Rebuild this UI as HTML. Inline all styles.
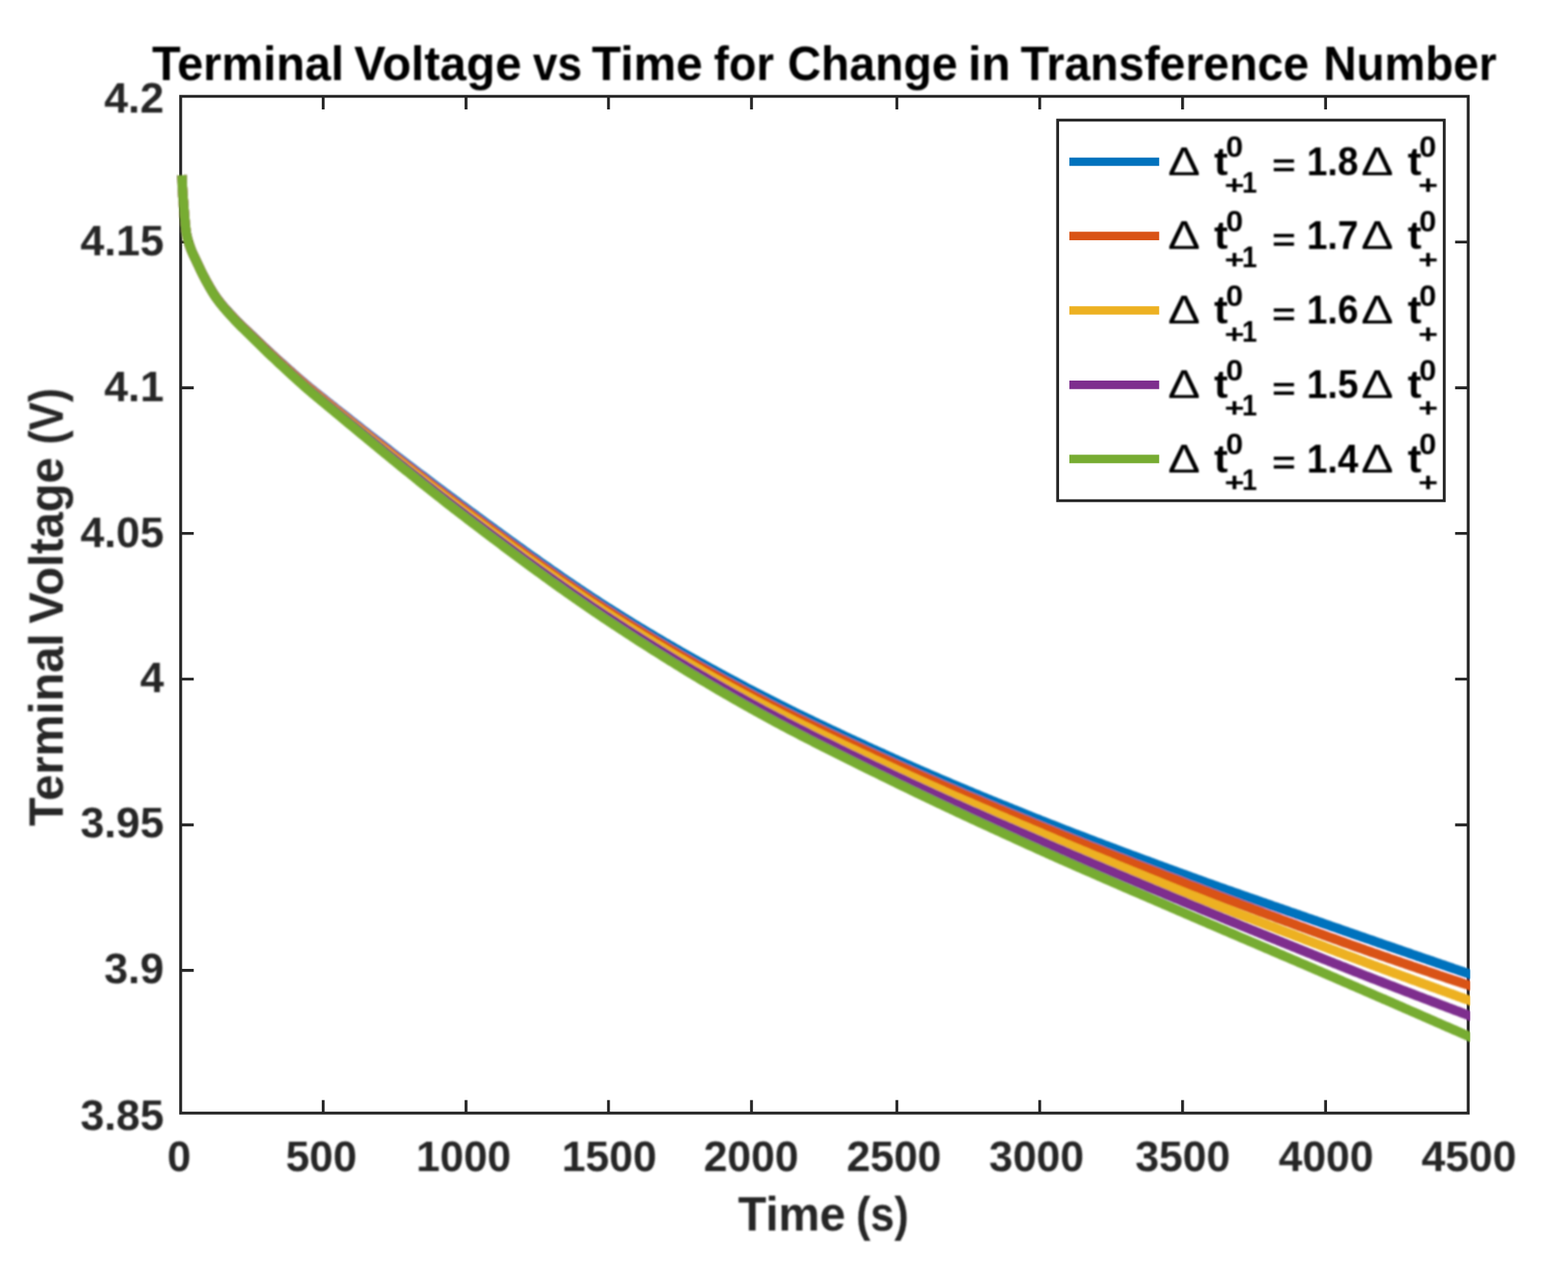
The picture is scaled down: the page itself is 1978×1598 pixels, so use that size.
<!DOCTYPE html>
<html lang="en"><head><meta charset="utf-8"><title>Terminal Voltage vs Time for Change in Transference Number</title>
<style>
html,body{margin:0;padding:0;background:#fff;}
body{width:1978px;height:1598px;overflow:hidden;}
svg{display:block;}
</style></head><body>
<svg width="1978" height="1598" viewBox="0 0 1978 1598">
<rect width="1978" height="1598" fill="#fff"/>
<defs><filter id="bt" x="0" y="0" width="1978" height="1598" filterUnits="userSpaceOnUse"><feGaussianBlur stdDeviation="1.1"/></filter><filter id="bc" x="0" y="0" width="1978" height="1598" filterUnits="userSpaceOnUse"><feGaussianBlur stdDeviation="1.0"/></filter><filter id="ba" x="0" y="0" width="1978" height="1598" filterUnits="userSpaceOnUse"><feGaussianBlur stdDeviation="0.45"/></filter></defs>
<g stroke="#262626" stroke-width="3.6" fill="none" stroke-linecap="butt" filter="url(#ba)">
<rect x="227.9" y="121.5" width="1624.1999999999998" height="1282.4"/>
<path d="M407.7,1403.9 v-16.5 M407.7,121.5 v16.5"/>
<path d="M587.9,1403.9 v-16.5 M587.9,121.5 v16.5"/>
<path d="M767.6,1403.9 v-16.5 M767.6,121.5 v16.5"/>
<path d="M948.0,1403.9 v-16.5 M948.0,121.5 v16.5"/>
<path d="M1131.4,1403.9 v-16.5 M1131.4,121.5 v16.5"/>
<path d="M1311.6,1403.9 v-16.5 M1311.6,121.5 v16.5"/>
<path d="M1491.8,1403.9 v-16.5 M1491.8,121.5 v16.5"/>
<path d="M1672.2,1403.9 v-16.5 M1672.2,121.5 v16.5"/>
<path d="M227.9,305.3 h14.9 M1852.1,305.3 h-16.5"/>
<path d="M227.9,489.1 h16.5 M1852.1,489.1 h-16.5"/>
<path d="M227.9,672.7 h16.5 M1852.1,672.7 h-16.5"/>
<path d="M227.9,856.5 h16.5 M1852.1,856.5 h-16.5"/>
<path d="M227.9,1040.4 h16.5 M1852.1,1040.4 h-16.5"/>
<path d="M227.9,1223.9 h16.5 M1852.1,1223.9 h-16.5"/>
</g>
<clipPath id="cp"><rect x="221.9" y="121.5" width="1632.6999999999998" height="1282.4"/></clipPath>
<g clip-path="url(#cp)" filter="url(#bc)" fill="none" stroke-width="12.0" stroke-linejoin="round" stroke-linecap="butt">
<path stroke="#0072BD" d="M229.6,221.0 L229.7,224.4 L229.8,227.7 L229.9,231.1 L230.0,234.4 L230.2,237.8 L230.4,241.1 L230.6,244.5 L230.8,247.8 L231.1,251.2 L231.4,254.5 L231.6,257.8 L231.9,261.2 L232.1,264.5 L232.4,267.9 L232.6,271.2 L232.9,274.6 L233.2,277.9 L233.5,281.2 L233.8,284.6 L234.2,287.9 L234.6,291.2 L235.1,294.5 L235.8,297.8 L236.6,301.0 L237.5,304.3 L238.5,307.5 L239.6,310.6 L240.7,313.8 L241.9,316.8 L243.3,319.9 L244.7,322.9 L246.2,325.9 L247.6,328.9 L249.0,331.9 L250.5,334.9 L251.9,338.0 L253.3,341.0 L254.8,343.9 L256.3,346.9 L257.9,349.8 L259.4,352.8 L261.0,355.7 L262.7,358.6 L264.3,361.5 L266.0,364.4 L267.7,367.2 L269.5,370.0 L271.3,372.8 L273.2,375.5 L275.2,378.1 L277.2,380.8 L279.3,383.3 L281.4,385.9 L283.6,388.4 L285.8,390.9 L288.1,393.4 L290.3,395.8 L292.6,398.2 L294.9,400.6 L297.1,403.0 L299.4,405.4 L301.8,407.7 L304.2,410.0 L306.6,412.3 L309.0,414.6 L311.4,416.9 L313.8,419.2 L316.2,421.5 L318.6,423.7 L321.0,426.0 L323.4,428.3 L325.8,430.6 L328.2,432.9 L330.6,435.2 L333.0,437.5 L335.4,439.7 L337.8,442.0 L340.2,444.2 L342.6,446.5 L345.1,448.7 L347.5,451.0 L350.0,453.2 L352.4,455.4 L354.9,457.6 L357.4,459.8 L359.8,462.0 L362.3,464.2 L364.8,466.4 L367.3,468.6 L369.7,470.8 L372.2,473.0 L374.7,475.2 L377.2,477.4 L379.7,479.5 L382.2,481.7 L384.7,483.8 L387.2,485.9 L389.8,488.1 L392.3,490.1 L394.9,492.2 L397.5,494.3 L400.1,496.4 L402.6,498.4 L405.2,500.5 L407.8,502.5 L410.4,504.6 L413.0,506.7 L415.6,508.7 L418.2,510.8 L420.7,512.8 L423.3,514.9 L425.9,516.9 L428.5,519.0 L431.1,521.0 L433.7,523.0 L436.3,525.1 L438.9,527.1 L441.4,529.2 L444.0,531.2 L446.6,533.2 L449.2,535.3 L451.8,537.3 L454.4,539.3 L457.0,541.4 L459.6,543.4 L462.2,545.4 L464.7,547.5 L467.3,549.5 L469.9,551.5 L472.5,553.5 L475.1,555.6 L477.7,557.6 L480.3,559.6 L482.9,561.6 L485.5,563.6 L488.1,565.6 L490.7,567.6 L493.3,569.7 L495.9,571.7 L498.5,573.7 L501.1,575.7 L503.7,577.7 L506.3,579.7 L508.9,581.7 L511.5,583.7 L514.2,585.7 L516.8,587.7 L519.4,589.7 L522.0,591.7 L524.6,593.7 L527.2,595.7 L529.8,597.7 L532.5,599.6 L535.1,601.6 L537.7,603.6 L540.3,605.6 L543.0,607.6 L545.6,609.6 L548.2,611.5 L550.9,613.5 L553.5,615.5 L556.1,617.5 L558.8,619.4 L561.4,621.4 L564.1,623.4 L566.7,625.4 L569.4,627.3 L572.0,629.3 L574.7,631.3 L577.3,633.2 L580.0,635.2 L582.6,637.2 L585.3,639.1 L587.9,641.1 L590.6,643.0 L593.3,645.0 L595.9,646.9 L598.6,648.9 L601.3,650.9 L604.0,652.8 L606.6,654.8 L609.3,656.7 L612.0,658.7 L614.7,660.7 L617.3,662.6 L620.0,664.6 L622.7,666.5 L625.4,668.5 L628.1,670.5 L630.8,672.4 L633.4,674.4 L636.1,676.3 L638.8,678.3 L641.5,680.2 L644.2,682.2 L646.9,684.1 L649.6,686.1 L652.3,688.0 L655.0,690.0 L657.7,691.9 L660.4,693.9 L663.1,695.8 L665.8,697.7 L668.5,699.7 L671.2,701.6 L674.0,703.5 L676.7,705.4 L679.4,707.4 L682.1,709.3 L684.8,711.2 L687.6,713.1 L690.3,715.0 L693.0,716.9 L695.7,718.8 L698.5,720.8 L701.2,722.6 L703.9,724.5 L706.7,726.4 L709.4,728.3 L712.2,730.2 L714.9,732.1 L717.7,734.0 L720.4,735.8 L723.2,737.7 L725.9,739.6 L728.7,741.4 L731.4,743.3 L734.2,745.1 L736.9,746.9 L739.7,748.8 L742.5,750.6 L745.2,752.4 L748.0,754.3 L750.8,756.1 L753.6,757.9 L756.3,759.7 L759.1,761.5 L761.9,763.3 L764.7,765.1 L767.5,766.8 L770.3,768.6 L773.1,770.4 L775.9,772.1 L778.7,773.9 L781.5,775.7 L784.3,777.4 L787.1,779.2 L789.9,780.9 L792.7,782.6 L795.5,784.4 L798.3,786.1 L801.1,787.8 L804.0,789.5 L806.8,791.3 L809.6,793.0 L812.5,794.7 L815.3,796.4 L818.1,798.1 L821.0,799.8 L823.8,801.5 L826.6,803.2 L829.5,804.8 L832.3,806.5 L835.2,808.2 L838.0,809.9 L840.9,811.5 L843.7,813.2 L846.6,814.8 L849.5,816.5 L852.3,818.1 L855.2,819.8 L858.0,821.4 L860.9,823.1 L863.8,824.7 L866.7,826.3 L869.5,828.0 L872.4,829.6 L875.3,831.2 L878.2,832.8 L881.0,834.4 L883.9,836.0 L886.8,837.6 L889.7,839.2 L892.6,840.8 L895.5,842.4 L898.4,844.0 L901.3,845.6 L904.2,847.2 L907.1,848.8 L910.0,850.4 L912.9,851.9 L915.8,853.5 L918.7,855.1 L921.6,856.6 L924.5,858.2 L927.4,859.7 L930.4,861.3 L933.3,862.8 L936.2,864.4 L939.1,865.9 L942.0,867.5 L945.0,869.0 L947.9,870.5 L950.8,872.1 L953.7,873.6 L956.7,875.1 L959.6,876.6 L962.5,878.2 L965.5,879.7 L968.4,881.2 L971.4,882.7 L974.3,884.2 L977.3,885.7 L980.2,887.2 L983.2,888.7 L986.2,890.1 L989.1,891.6 L992.1,893.1 L995.1,894.6 L998.0,896.1 L1001.0,897.5 L1004.0,899.0 L1007.0,900.5 L1009.9,901.9 L1012.9,903.4 L1015.9,904.8 L1018.9,906.3 L1021.9,907.7 L1024.9,909.2 L1027.9,910.6 L1030.9,912.0 L1033.9,913.5 L1036.9,914.9 L1039.9,916.3 L1042.9,917.8 L1045.9,919.2 L1048.9,920.6 L1051.9,922.0 L1054.9,923.4 L1057.9,924.8 L1060.9,926.3 L1063.9,927.7 L1066.9,929.1 L1069.9,930.5 L1072.9,931.9 L1076.0,933.3 L1079.0,934.7 L1082.0,936.0 L1085.0,937.4 L1088.0,938.8 L1091.0,940.2 L1094.0,941.6 L1097.1,943.0 L1100.1,944.4 L1103.1,945.7 L1106.1,947.1 L1109.1,948.5 L1112.2,949.8 L1115.2,951.2 L1118.2,952.6 L1121.2,953.9 L1124.2,955.3 L1127.2,956.7 L1130.3,958.0 L1133.3,959.4 L1136.3,960.7 L1139.3,962.1 L1142.3,963.4 L1145.4,964.8 L1148.4,966.1 L1151.4,967.4 L1154.4,968.8 L1157.5,970.1 L1160.5,971.4 L1163.5,972.8 L1166.5,974.1 L1169.6,975.4 L1172.6,976.7 L1175.6,978.0 L1178.7,979.3 L1181.7,980.6 L1184.7,981.9 L1187.8,983.2 L1190.8,984.5 L1193.8,985.8 L1196.9,987.1 L1199.9,988.4 L1203.0,989.7 L1206.0,991.0 L1209.1,992.3 L1212.1,993.5 L1215.1,994.8 L1218.2,996.1 L1221.2,997.4 L1224.3,998.6 L1227.3,999.9 L1230.4,1001.2 L1233.4,1002.4 L1236.5,1003.7 L1239.5,1005.0 L1242.6,1006.2 L1245.6,1007.5 L1248.7,1008.7 L1251.7,1010.0 L1254.8,1011.2 L1257.8,1012.5 L1260.9,1013.7 L1263.9,1015.0 L1267.0,1016.2 L1270.0,1017.4 L1273.1,1018.7 L1276.2,1019.9 L1279.2,1021.2 L1282.3,1022.4 L1285.3,1023.6 L1288.4,1024.9 L1291.4,1026.1 L1294.5,1027.3 L1297.6,1028.5 L1300.6,1029.8 L1303.7,1031.0 L1306.7,1032.2 L1309.8,1033.4 L1312.9,1034.7 L1315.9,1035.9 L1319.0,1037.1 L1322.0,1038.3 L1325.1,1039.5 L1328.2,1040.7 L1331.2,1041.9 L1334.3,1043.1 L1337.4,1044.3 L1340.5,1045.5 L1343.5,1046.7 L1346.6,1047.9 L1349.7,1049.1 L1352.7,1050.3 L1355.8,1051.5 L1358.9,1052.7 L1362.0,1053.9 L1365.0,1055.0 L1368.1,1056.2 L1371.2,1057.4 L1374.3,1058.6 L1377.3,1059.7 L1380.4,1060.9 L1383.5,1062.1 L1386.6,1063.2 L1389.7,1064.4 L1392.7,1065.6 L1395.8,1066.7 L1398.9,1067.9 L1402.0,1069.0 L1405.1,1070.2 L1408.1,1071.4 L1411.2,1072.5 L1414.3,1073.7 L1417.4,1074.8 L1420.5,1076.0 L1423.6,1077.1 L1426.6,1078.3 L1429.7,1079.4 L1432.8,1080.5 L1435.9,1081.7 L1439.0,1082.8 L1442.1,1084.0 L1445.1,1085.1 L1448.2,1086.2 L1451.3,1087.4 L1454.4,1088.5 L1457.5,1089.7 L1460.6,1090.8 L1463.6,1091.9 L1466.7,1093.1 L1469.8,1094.2 L1472.9,1095.3 L1476.0,1096.5 L1479.1,1097.6 L1482.1,1098.7 L1485.2,1099.8 L1488.3,1101.0 L1491.4,1102.1 L1494.5,1103.2 L1497.6,1104.4 L1500.6,1105.5 L1503.7,1106.6 L1506.8,1107.7 L1509.9,1108.8 L1513.0,1109.9 L1516.1,1111.1 L1519.1,1112.2 L1522.2,1113.3 L1525.3,1114.4 L1528.4,1115.5 L1531.5,1116.6 L1534.6,1117.7 L1537.7,1118.8 L1540.7,1119.9 L1543.8,1121.0 L1546.9,1122.1 L1550.0,1123.1 L1553.1,1124.2 L1556.2,1125.3 L1559.3,1126.4 L1562.4,1127.5 L1565.4,1128.6 L1568.5,1129.7 L1571.6,1130.7 L1574.7,1131.8 L1577.8,1132.9 L1580.9,1134.0 L1584.0,1135.0 L1587.1,1136.1 L1590.1,1137.2 L1593.2,1138.3 L1596.3,1139.3 L1599.4,1140.4 L1602.5,1141.5 L1605.6,1142.6 L1608.7,1143.6 L1611.7,1144.7 L1614.8,1145.8 L1617.9,1146.8 L1621.0,1147.9 L1624.1,1149.0 L1627.2,1150.1 L1630.3,1151.1 L1633.4,1152.2 L1636.4,1153.3 L1639.5,1154.3 L1642.6,1155.4 L1645.7,1156.5 L1648.8,1157.6 L1651.9,1158.6 L1654.9,1159.7 L1658.0,1160.8 L1661.1,1161.8 L1664.2,1162.9 L1667.3,1164.0 L1670.4,1165.1 L1673.4,1166.1 L1676.5,1167.2 L1679.6,1168.3 L1682.7,1169.4 L1685.8,1170.4 L1688.9,1171.5 L1691.9,1172.6 L1695.0,1173.7 L1698.1,1174.7 L1701.2,1175.8 L1704.3,1176.9 L1707.3,1178.0 L1710.4,1179.0 L1713.5,1180.1 L1716.6,1181.2 L1719.7,1182.2 L1722.7,1183.3 L1725.8,1184.4 L1728.9,1185.4 L1732.0,1186.5 L1735.1,1187.6 L1738.1,1188.7 L1741.2,1189.7 L1744.3,1190.8 L1747.4,1191.9 L1750.5,1192.9 L1753.5,1194.0 L1756.6,1195.0 L1759.7,1196.1 L1762.8,1197.2 L1765.9,1198.2 L1768.9,1199.3 L1772.0,1200.4 L1775.1,1201.4 L1778.2,1202.5 L1781.2,1203.6 L1784.3,1204.6 L1787.4,1205.7 L1790.5,1206.7 L1793.6,1207.8 L1796.6,1208.9 L1799.7,1209.9 L1802.8,1211.0 L1805.9,1212.0 L1808.9,1213.1 L1812.0,1214.2 L1815.1,1215.2 L1818.2,1216.3 L1821.2,1217.3 L1824.3,1218.4 L1827.4,1219.5 L1830.5,1220.5 L1833.5,1221.6 L1836.6,1222.6 L1839.7,1223.7 L1842.8,1224.7 L1845.8,1225.8 L1848.9,1226.8 L1852.0,1227.9 L1863.4,1231.8"/>
<path stroke="#D95319" d="M229.6,221.0 L229.7,224.4 L229.8,227.7 L229.9,231.1 L230.0,234.4 L230.2,237.8 L230.4,241.1 L230.6,244.5 L230.8,247.8 L231.1,251.2 L231.4,254.5 L231.6,257.8 L231.9,261.2 L232.1,264.5 L232.4,267.9 L232.6,271.2 L232.9,274.6 L233.2,277.9 L233.5,281.3 L233.8,284.6 L234.2,288.0 L234.6,291.3 L235.1,294.6 L235.8,297.8 L236.6,301.1 L237.5,304.3 L238.5,307.5 L239.6,310.7 L240.7,313.8 L241.9,316.9 L243.3,320.0 L244.7,323.0 L246.2,326.0 L247.6,329.0 L249.0,332.0 L250.5,335.1 L251.9,338.1 L253.3,341.1 L254.8,344.1 L256.3,347.1 L257.9,350.0 L259.4,352.9 L261.0,355.9 L262.7,358.8 L264.3,361.7 L266.0,364.6 L267.7,367.5 L269.5,370.3 L271.3,373.0 L273.2,375.7 L275.2,378.4 L277.2,381.0 L279.3,383.6 L281.4,386.2 L283.6,388.7 L285.8,391.2 L288.1,393.7 L290.3,396.1 L292.6,398.6 L294.9,401.0 L297.1,403.4 L299.4,405.8 L301.8,408.2 L304.2,410.5 L306.6,412.8 L309.0,415.1 L311.4,417.4 L313.8,419.7 L316.2,422.0 L318.6,424.3 L321.0,426.6 L323.4,428.9 L325.8,431.2 L328.2,433.5 L330.6,435.8 L333.0,438.1 L335.4,440.4 L337.8,442.7 L340.2,444.9 L342.6,447.2 L345.1,449.4 L347.5,451.7 L350.0,453.9 L352.4,456.2 L354.9,458.4 L357.4,460.6 L359.8,462.8 L362.3,465.1 L364.8,467.3 L367.3,469.5 L369.7,471.7 L372.2,473.9 L374.7,476.1 L377.2,478.3 L379.7,480.5 L382.2,482.7 L384.7,484.8 L387.2,487.0 L389.8,489.1 L392.3,491.2 L394.9,493.3 L397.5,495.4 L400.1,497.5 L402.6,499.6 L405.2,501.7 L407.8,503.7 L410.4,505.8 L413.0,507.9 L415.6,510.0 L418.2,512.0 L420.7,514.1 L423.3,516.2 L425.9,518.3 L428.5,520.3 L431.1,522.4 L433.7,524.5 L436.3,526.5 L438.9,528.6 L441.4,530.7 L444.0,532.7 L446.6,534.8 L449.2,536.9 L451.8,538.9 L454.4,541.0 L457.0,543.0 L459.6,545.1 L462.2,547.2 L464.7,549.2 L467.3,551.3 L469.9,553.3 L472.5,555.4 L475.1,557.4 L477.7,559.5 L480.3,561.5 L482.9,563.6 L485.5,565.6 L488.1,567.6 L490.7,569.7 L493.3,571.7 L495.9,573.8 L498.5,575.8 L501.1,577.8 L503.7,579.9 L506.3,581.9 L508.9,583.9 L511.5,586.0 L514.2,588.0 L516.8,590.0 L519.4,592.0 L522.0,594.1 L524.6,596.1 L527.2,598.1 L529.8,600.1 L532.5,602.1 L535.1,604.1 L537.7,606.2 L540.3,608.2 L543.0,610.2 L545.6,612.2 L548.2,614.2 L550.9,616.2 L553.5,618.2 L556.1,620.2 L558.8,622.2 L561.4,624.2 L564.1,626.2 L566.7,628.2 L569.4,630.2 L572.0,632.2 L574.7,634.2 L577.3,636.1 L580.0,638.1 L582.6,640.1 L585.3,642.1 L587.9,644.1 L590.6,646.0 L593.3,648.0 L595.9,650.0 L598.6,652.0 L601.3,654.0 L604.0,655.9 L606.6,657.9 L609.3,659.9 L612.0,661.9 L614.7,663.8 L617.3,665.8 L620.0,667.8 L622.7,669.8 L625.4,671.7 L628.1,673.7 L630.8,675.7 L633.4,677.6 L636.1,679.6 L638.8,681.6 L641.5,683.6 L644.2,685.5 L646.9,687.5 L649.6,689.4 L652.3,691.4 L655.0,693.4 L657.7,695.3 L660.4,697.3 L663.1,699.2 L665.8,701.2 L668.5,703.1 L671.2,705.1 L674.0,707.0 L676.7,708.9 L679.4,710.9 L682.1,712.8 L684.8,714.7 L687.6,716.7 L690.3,718.6 L693.0,720.5 L695.7,722.4 L698.5,724.3 L701.2,726.3 L703.9,728.2 L706.7,730.1 L709.4,732.0 L712.2,733.9 L714.9,735.8 L717.7,737.6 L720.4,739.5 L723.2,741.4 L725.9,743.3 L728.7,745.2 L731.4,747.0 L734.2,748.9 L736.9,750.7 L739.7,752.6 L742.5,754.4 L745.2,756.3 L748.0,758.1 L750.8,760.0 L753.6,761.8 L756.3,763.6 L759.1,765.4 L761.9,767.2 L764.7,769.0 L767.5,770.8 L770.3,772.6 L773.1,774.4 L775.9,776.2 L778.7,778.0 L781.5,779.8 L784.3,781.5 L787.1,783.3 L789.9,785.1 L792.7,786.8 L795.5,788.6 L798.3,790.3 L801.1,792.1 L804.0,793.8 L806.8,795.6 L809.6,797.3 L812.5,799.1 L815.3,800.8 L818.1,802.5 L821.0,804.2 L823.8,806.0 L826.6,807.7 L829.5,809.4 L832.3,811.1 L835.2,812.8 L838.0,814.5 L840.9,816.2 L843.7,817.9 L846.6,819.6 L849.5,821.3 L852.3,823.0 L855.2,824.6 L858.0,826.3 L860.9,828.0 L863.8,829.6 L866.7,831.3 L869.5,833.0 L872.4,834.6 L875.3,836.3 L878.2,837.9 L881.0,839.6 L883.9,841.2 L886.8,842.8 L889.7,844.5 L892.6,846.1 L895.5,847.7 L898.4,849.3 L901.3,850.9 L904.2,852.6 L907.1,854.2 L910.0,855.8 L912.9,857.4 L915.8,859.0 L918.7,860.5 L921.6,862.1 L924.5,863.7 L927.4,865.3 L930.4,866.9 L933.3,868.4 L936.2,870.0 L939.1,871.6 L942.0,873.1 L945.0,874.7 L947.9,876.2 L950.8,877.8 L953.7,879.3 L956.7,880.9 L959.6,882.4 L962.5,883.9 L965.5,885.4 L968.4,887.0 L971.4,888.5 L974.3,890.0 L977.3,891.5 L980.2,893.0 L983.2,894.5 L986.2,896.0 L989.1,897.5 L992.1,899.0 L995.1,900.4 L998.0,901.9 L1001.0,903.4 L1004.0,904.9 L1007.0,906.3 L1009.9,907.8 L1012.9,909.2 L1015.9,910.7 L1018.9,912.1 L1021.9,913.6 L1024.9,915.0 L1027.9,916.5 L1030.9,917.9 L1033.9,919.3 L1036.9,920.8 L1039.9,922.2 L1042.9,923.6 L1045.9,925.1 L1048.9,926.5 L1051.9,927.9 L1054.9,929.3 L1057.9,930.7 L1060.9,932.1 L1063.9,933.5 L1066.9,934.9 L1069.9,936.3 L1072.9,937.8 L1076.0,939.1 L1079.0,940.5 L1082.0,941.9 L1085.0,943.3 L1088.0,944.7 L1091.0,946.1 L1094.0,947.5 L1097.1,948.9 L1100.1,950.3 L1103.1,951.6 L1106.1,953.0 L1109.1,954.4 L1112.2,955.8 L1115.2,957.2 L1118.2,958.5 L1121.2,959.9 L1124.2,961.3 L1127.2,962.7 L1130.3,964.0 L1133.3,965.4 L1136.3,966.8 L1139.3,968.1 L1142.3,969.5 L1145.4,970.8 L1148.4,972.2 L1151.4,973.5 L1154.4,974.9 L1157.5,976.2 L1160.5,977.6 L1163.5,978.9 L1166.5,980.3 L1169.6,981.6 L1172.6,982.9 L1175.6,984.3 L1178.7,985.6 L1181.7,986.9 L1184.7,988.2 L1187.8,989.6 L1190.8,990.9 L1193.8,992.2 L1196.9,993.5 L1199.9,994.8 L1203.0,996.1 L1206.0,997.4 L1209.1,998.7 L1212.1,1000.1 L1215.1,1001.4 L1218.2,1002.7 L1221.2,1004.0 L1224.3,1005.2 L1227.3,1006.5 L1230.4,1007.8 L1233.4,1009.1 L1236.5,1010.4 L1239.5,1011.7 L1242.6,1013.0 L1245.6,1014.3 L1248.7,1015.6 L1251.7,1016.8 L1254.8,1018.1 L1257.8,1019.4 L1260.9,1020.7 L1263.9,1021.9 L1267.0,1023.2 L1270.0,1024.5 L1273.1,1025.8 L1276.2,1027.0 L1279.2,1028.3 L1282.3,1029.6 L1285.3,1030.8 L1288.4,1032.1 L1291.4,1033.4 L1294.5,1034.6 L1297.6,1035.9 L1300.6,1037.2 L1303.7,1038.4 L1306.7,1039.7 L1309.8,1040.9 L1312.9,1042.2 L1315.9,1043.4 L1319.0,1044.7 L1322.0,1045.9 L1325.1,1047.2 L1328.2,1048.4 L1331.2,1049.7 L1334.3,1050.9 L1337.4,1052.2 L1340.5,1053.4 L1343.5,1054.7 L1346.6,1055.9 L1349.7,1057.1 L1352.7,1058.4 L1355.8,1059.6 L1358.9,1060.8 L1362.0,1062.1 L1365.0,1063.3 L1368.1,1064.5 L1371.2,1065.7 L1374.3,1067.0 L1377.3,1068.2 L1380.4,1069.4 L1383.5,1070.6 L1386.6,1071.8 L1389.7,1073.1 L1392.7,1074.3 L1395.8,1075.5 L1398.9,1076.7 L1402.0,1077.9 L1405.1,1079.1 L1408.1,1080.3 L1411.2,1081.5 L1414.3,1082.7 L1417.4,1083.9 L1420.5,1085.1 L1423.6,1086.3 L1426.6,1087.6 L1429.7,1088.8 L1432.8,1090.0 L1435.9,1091.2 L1439.0,1092.3 L1442.1,1093.5 L1445.1,1094.7 L1448.2,1095.9 L1451.3,1097.1 L1454.4,1098.3 L1457.5,1099.5 L1460.6,1100.7 L1463.6,1101.9 L1466.7,1103.1 L1469.8,1104.3 L1472.9,1105.5 L1476.0,1106.7 L1479.1,1107.9 L1482.1,1109.0 L1485.2,1110.2 L1488.3,1111.4 L1491.4,1112.6 L1494.5,1113.8 L1497.6,1115.0 L1500.6,1116.2 L1503.7,1117.4 L1506.8,1118.5 L1509.9,1119.7 L1513.0,1120.9 L1516.1,1122.1 L1519.1,1123.3 L1522.2,1124.4 L1525.3,1125.6 L1528.4,1126.8 L1531.5,1127.9 L1534.6,1129.1 L1537.7,1130.3 L1540.7,1131.5 L1543.8,1132.6 L1546.9,1133.8 L1550.0,1135.0 L1553.1,1136.1 L1556.2,1137.3 L1559.3,1138.4 L1562.4,1139.6 L1565.4,1140.8 L1568.5,1141.9 L1571.6,1143.1 L1574.7,1144.2 L1577.8,1145.4 L1580.9,1146.6 L1584.0,1147.7 L1587.1,1148.9 L1590.1,1150.0 L1593.2,1151.2 L1596.3,1152.3 L1599.4,1153.5 L1602.5,1154.6 L1605.6,1155.7 L1608.7,1156.9 L1611.7,1158.0 L1614.8,1159.2 L1617.9,1160.3 L1621.0,1161.5 L1624.1,1162.6 L1627.2,1163.7 L1630.3,1164.9 L1633.4,1166.0 L1636.4,1167.1 L1639.5,1168.3 L1642.6,1169.4 L1645.7,1170.5 L1648.8,1171.7 L1651.9,1172.8 L1654.9,1173.9 L1658.0,1175.1 L1661.1,1176.2 L1664.2,1177.3 L1667.3,1178.4 L1670.4,1179.6 L1673.4,1180.7 L1676.5,1181.8 L1679.6,1182.9 L1682.7,1184.0 L1685.8,1185.1 L1688.9,1186.2 L1691.9,1187.4 L1695.0,1188.5 L1698.1,1189.6 L1701.2,1190.7 L1704.3,1191.8 L1707.3,1192.9 L1710.4,1194.0 L1713.5,1195.0 L1716.6,1196.1 L1719.7,1197.2 L1722.7,1198.3 L1725.8,1199.4 L1728.9,1200.5 L1732.0,1201.6 L1735.1,1202.6 L1738.1,1203.7 L1741.2,1204.8 L1744.3,1205.9 L1747.4,1206.9 L1750.5,1208.0 L1753.5,1209.1 L1756.6,1210.1 L1759.7,1211.2 L1762.8,1212.3 L1765.9,1213.3 L1768.9,1214.4 L1772.0,1215.4 L1775.1,1216.5 L1778.2,1217.5 L1781.2,1218.6 L1784.3,1219.6 L1787.4,1220.7 L1790.5,1221.7 L1793.6,1222.8 L1796.6,1223.8 L1799.7,1224.9 L1802.8,1225.9 L1805.9,1227.0 L1808.9,1228.0 L1812.0,1229.0 L1815.1,1230.1 L1818.2,1231.1 L1821.2,1232.1 L1824.3,1233.2 L1827.4,1234.2 L1830.5,1235.2 L1833.5,1236.3 L1836.6,1237.3 L1839.7,1238.3 L1842.8,1239.3 L1845.8,1240.4 L1848.9,1241.4 L1852.0,1242.4 L1863.4,1246.2"/>
<path stroke="#EDB120" d="M229.6,221.0 L229.7,224.4 L229.8,227.7 L229.9,231.1 L230.0,234.4 L230.2,237.8 L230.4,241.1 L230.6,244.5 L230.8,247.8 L231.1,251.2 L231.4,254.5 L231.6,257.9 L231.9,261.2 L232.1,264.6 L232.4,267.9 L232.6,271.3 L232.9,274.6 L233.2,277.9 L233.5,281.3 L233.8,284.6 L234.2,288.0 L234.6,291.3 L235.1,294.6 L235.8,297.9 L236.6,301.1 L237.5,304.4 L238.5,307.6 L239.6,310.7 L240.7,313.9 L241.9,317.0 L243.3,320.0 L244.7,323.1 L246.2,326.1 L247.6,329.1 L249.0,332.1 L250.5,335.2 L251.9,338.2 L253.3,341.2 L254.8,344.2 L256.3,347.2 L257.9,350.2 L259.4,353.1 L261.0,356.1 L262.7,359.0 L264.3,361.9 L266.0,364.8 L267.7,367.7 L269.5,370.5 L271.3,373.3 L273.2,376.0 L275.2,378.7 L277.2,381.3 L279.3,383.9 L281.4,386.5 L283.6,389.0 L285.8,391.5 L288.1,394.0 L290.3,396.5 L292.6,399.0 L294.9,401.4 L297.1,403.8 L299.4,406.2 L301.8,408.6 L304.2,410.9 L306.6,413.2 L309.0,415.6 L311.4,417.9 L313.8,420.2 L316.2,422.5 L318.6,424.8 L321.0,427.1 L323.4,429.5 L325.8,431.8 L328.2,434.1 L330.6,436.4 L333.0,438.7 L335.4,441.0 L337.8,443.3 L340.2,445.6 L342.6,447.9 L345.1,450.2 L347.5,452.4 L350.0,454.7 L352.4,456.9 L354.9,459.2 L357.4,461.4 L359.8,463.7 L362.3,465.9 L364.8,468.1 L367.3,470.4 L369.7,472.6 L372.2,474.8 L374.7,477.1 L377.2,479.3 L379.7,481.5 L382.2,483.7 L384.7,485.9 L387.2,488.0 L389.8,490.2 L392.3,492.3 L394.9,494.4 L397.5,496.5 L400.1,498.6 L402.6,500.7 L405.2,502.8 L407.8,504.9 L410.4,507.0 L413.0,509.1 L415.6,511.2 L418.2,513.3 L420.7,515.4 L423.3,517.5 L425.9,519.6 L428.5,521.7 L431.1,523.8 L433.7,525.9 L436.3,528.0 L438.9,530.1 L441.4,532.2 L444.0,534.2 L446.6,536.3 L449.2,538.4 L451.8,540.5 L454.4,542.6 L457.0,544.7 L459.6,546.8 L462.2,548.8 L464.7,550.9 L467.3,553.0 L469.9,555.1 L472.5,557.2 L475.1,559.2 L477.7,561.3 L480.3,563.4 L482.9,565.5 L485.5,567.5 L488.1,569.6 L490.7,571.7 L493.3,573.7 L495.9,575.8 L498.5,577.9 L501.1,579.9 L503.7,582.0 L506.3,584.1 L508.9,586.1 L511.5,588.2 L514.2,590.2 L516.8,592.3 L519.4,594.3 L522.0,596.4 L524.6,598.4 L527.2,600.5 L529.8,602.5 L532.5,604.6 L535.1,606.6 L537.7,608.6 L540.3,610.7 L543.0,612.7 L545.6,614.7 L548.2,616.8 L550.9,618.8 L553.5,620.8 L556.1,622.8 L558.8,624.9 L561.4,626.9 L564.1,628.9 L566.7,630.9 L569.4,632.9 L572.0,634.9 L574.7,637.0 L577.3,639.0 L580.0,641.0 L582.6,643.0 L585.3,645.0 L587.9,647.0 L590.6,649.0 L593.3,650.9 L595.9,652.9 L598.6,654.9 L601.3,656.9 L604.0,658.9 L606.6,660.9 L609.3,662.9 L612.0,664.9 L614.7,666.9 L617.3,668.9 L620.0,670.9 L622.7,672.9 L625.4,674.8 L628.1,676.8 L630.8,678.8 L633.4,680.8 L636.1,682.8 L638.8,684.8 L641.5,686.7 L644.2,688.7 L646.9,690.7 L649.6,692.7 L652.3,694.6 L655.0,696.6 L657.7,698.6 L660.4,700.6 L663.1,702.5 L665.8,704.5 L668.5,706.4 L671.2,708.4 L674.0,710.3 L676.7,712.3 L679.4,714.2 L682.1,716.2 L684.8,718.1 L687.6,720.1 L690.3,722.0 L693.0,723.9 L695.7,725.9 L698.5,727.8 L701.2,729.7 L703.9,731.6 L706.7,733.6 L709.4,735.5 L712.2,737.4 L714.9,739.3 L717.7,741.2 L720.4,743.1 L723.2,745.0 L725.9,746.9 L728.7,748.7 L731.4,750.6 L734.2,752.5 L736.9,754.4 L739.7,756.2 L742.5,758.1 L745.2,760.0 L748.0,761.8 L750.8,763.7 L753.6,765.5 L756.3,767.3 L759.1,769.2 L761.9,771.0 L764.7,772.8 L767.5,774.6 L770.3,776.4 L773.1,778.2 L775.9,780.0 L778.7,781.8 L781.5,783.6 L784.3,785.4 L787.1,787.2 L789.9,789.0 L792.7,790.8 L795.5,792.5 L798.3,794.3 L801.1,796.1 L804.0,797.8 L806.8,799.6 L809.6,801.4 L812.5,803.1 L815.3,804.9 L818.1,806.6 L821.0,808.3 L823.8,810.1 L826.6,811.8 L829.5,813.5 L832.3,815.3 L835.2,817.0 L838.0,818.7 L840.9,820.4 L843.7,822.1 L846.6,823.9 L849.5,825.6 L852.3,827.3 L855.2,829.0 L858.0,830.6 L860.9,832.3 L863.8,834.0 L866.7,835.7 L869.5,837.4 L872.4,839.1 L875.3,840.7 L878.2,842.4 L881.0,844.0 L883.9,845.7 L886.8,847.4 L889.7,849.0 L892.6,850.7 L895.5,852.3 L898.4,853.9 L901.3,855.6 L904.2,857.2 L907.1,858.8 L910.0,860.5 L912.9,862.1 L915.8,863.7 L918.7,865.3 L921.6,866.9 L924.5,868.5 L927.4,870.1 L930.4,871.7 L933.3,873.3 L936.2,874.9 L939.1,876.5 L942.0,878.1 L945.0,879.6 L947.9,881.2 L950.8,882.8 L953.7,884.4 L956.7,885.9 L959.6,887.5 L962.5,889.0 L965.5,890.6 L968.4,892.1 L971.4,893.7 L974.3,895.2 L977.3,896.7 L980.2,898.2 L983.2,899.8 L986.2,901.3 L989.1,902.8 L992.1,904.3 L995.1,905.8 L998.0,907.3 L1001.0,908.8 L1004.0,910.3 L1007.0,911.8 L1009.9,913.3 L1012.9,914.8 L1015.9,916.3 L1018.9,917.7 L1021.9,919.2 L1024.9,920.7 L1027.9,922.2 L1030.9,923.6 L1033.9,925.1 L1036.9,926.6 L1039.9,928.0 L1042.9,929.5 L1045.9,930.9 L1048.9,932.4 L1051.9,933.8 L1054.9,935.3 L1057.9,936.7 L1060.9,938.1 L1063.9,939.6 L1066.9,941.0 L1069.9,942.4 L1072.9,943.9 L1076.0,945.3 L1079.0,946.7 L1082.0,948.2 L1085.0,949.6 L1088.0,951.0 L1091.0,952.4 L1094.0,953.8 L1097.1,955.2 L1100.1,956.7 L1103.1,958.1 L1106.1,959.5 L1109.1,960.9 L1112.2,962.3 L1115.2,963.7 L1118.2,965.1 L1121.2,966.5 L1124.2,967.9 L1127.2,969.3 L1130.3,970.7 L1133.3,972.1 L1136.3,973.5 L1139.3,974.9 L1142.3,976.3 L1145.4,977.7 L1148.4,979.1 L1151.4,980.5 L1154.4,981.8 L1157.5,983.2 L1160.5,984.6 L1163.5,986.0 L1166.5,987.3 L1169.6,988.7 L1172.6,990.1 L1175.6,991.4 L1178.7,992.8 L1181.7,994.1 L1184.7,995.5 L1187.8,996.8 L1190.8,998.2 L1193.8,999.5 L1196.9,1000.9 L1199.9,1002.2 L1203.0,1003.6 L1206.0,1004.9 L1209.1,1006.2 L1212.1,1007.6 L1215.1,1008.9 L1218.2,1010.2 L1221.2,1011.6 L1224.3,1012.9 L1227.3,1014.2 L1230.4,1015.5 L1233.4,1016.9 L1236.5,1018.2 L1239.5,1019.5 L1242.6,1020.8 L1245.6,1022.1 L1248.7,1023.5 L1251.7,1024.8 L1254.8,1026.1 L1257.8,1027.4 L1260.9,1028.7 L1263.9,1030.0 L1267.0,1031.3 L1270.0,1032.7 L1273.1,1034.0 L1276.2,1035.3 L1279.2,1036.6 L1282.3,1037.9 L1285.3,1039.2 L1288.4,1040.5 L1291.4,1041.8 L1294.5,1043.1 L1297.6,1044.4 L1300.6,1045.7 L1303.7,1047.0 L1306.7,1048.3 L1309.8,1049.6 L1312.9,1050.9 L1315.9,1052.2 L1319.0,1053.5 L1322.0,1054.8 L1325.1,1056.1 L1328.2,1057.4 L1331.2,1058.7 L1334.3,1060.0 L1337.4,1061.3 L1340.5,1062.6 L1343.5,1063.9 L1346.6,1065.2 L1349.7,1066.4 L1352.7,1067.7 L1355.8,1069.0 L1358.9,1070.3 L1362.0,1071.6 L1365.0,1072.9 L1368.1,1074.1 L1371.2,1075.4 L1374.3,1076.7 L1377.3,1078.0 L1380.4,1079.3 L1383.5,1080.5 L1386.6,1081.8 L1389.7,1083.1 L1392.7,1084.4 L1395.8,1085.6 L1398.9,1086.9 L1402.0,1088.2 L1405.1,1089.4 L1408.1,1090.7 L1411.2,1092.0 L1414.3,1093.2 L1417.4,1094.5 L1420.5,1095.7 L1423.6,1097.0 L1426.6,1098.3 L1429.7,1099.5 L1432.8,1100.8 L1435.9,1102.0 L1439.0,1103.3 L1442.1,1104.6 L1445.1,1105.8 L1448.2,1107.1 L1451.3,1108.3 L1454.4,1109.6 L1457.5,1110.8 L1460.6,1112.1 L1463.6,1113.3 L1466.7,1114.6 L1469.8,1115.8 L1472.9,1117.1 L1476.0,1118.3 L1479.1,1119.5 L1482.1,1120.8 L1485.2,1122.0 L1488.3,1123.3 L1491.4,1124.5 L1494.5,1125.8 L1497.6,1127.0 L1500.6,1128.2 L1503.7,1129.5 L1506.8,1130.7 L1509.9,1131.9 L1513.0,1133.2 L1516.1,1134.4 L1519.1,1135.6 L1522.2,1136.8 L1525.3,1138.0 L1528.4,1139.3 L1531.5,1140.5 L1534.6,1141.7 L1537.7,1142.9 L1540.7,1144.1 L1543.8,1145.3 L1546.9,1146.5 L1550.0,1147.7 L1553.1,1148.9 L1556.2,1150.1 L1559.3,1151.4 L1562.4,1152.6 L1565.4,1153.8 L1568.5,1155.0 L1571.6,1156.1 L1574.7,1157.3 L1577.8,1158.5 L1580.9,1159.7 L1584.0,1160.9 L1587.1,1162.1 L1590.1,1163.3 L1593.2,1164.5 L1596.3,1165.7 L1599.4,1166.9 L1602.5,1168.1 L1605.6,1169.2 L1608.7,1170.4 L1611.7,1171.6 L1614.8,1172.8 L1617.9,1174.0 L1621.0,1175.2 L1624.1,1176.3 L1627.2,1177.5 L1630.3,1178.7 L1633.4,1179.9 L1636.4,1181.1 L1639.5,1182.2 L1642.6,1183.4 L1645.7,1184.6 L1648.8,1185.8 L1651.9,1187.0 L1654.9,1188.1 L1658.0,1189.3 L1661.1,1190.5 L1664.2,1191.7 L1667.3,1192.9 L1670.4,1194.0 L1673.4,1195.2 L1676.5,1196.4 L1679.6,1197.6 L1682.7,1198.7 L1685.8,1199.9 L1688.9,1201.1 L1691.9,1202.2 L1695.0,1203.4 L1698.1,1204.6 L1701.2,1205.7 L1704.3,1206.9 L1707.3,1208.0 L1710.4,1209.2 L1713.5,1210.4 L1716.6,1211.5 L1719.7,1212.7 L1722.7,1213.8 L1725.8,1215.0 L1728.9,1216.1 L1732.0,1217.3 L1735.1,1218.4 L1738.1,1219.6 L1741.2,1220.7 L1744.3,1221.9 L1747.4,1223.0 L1750.5,1224.1 L1753.5,1225.3 L1756.6,1226.4 L1759.7,1227.6 L1762.8,1228.7 L1765.9,1229.8 L1768.9,1231.0 L1772.0,1232.1 L1775.1,1233.2 L1778.2,1234.4 L1781.2,1235.5 L1784.3,1236.6 L1787.4,1237.7 L1790.5,1238.9 L1793.6,1240.0 L1796.6,1241.1 L1799.7,1242.2 L1802.8,1243.4 L1805.9,1244.5 L1808.9,1245.6 L1812.0,1246.7 L1815.1,1247.8 L1818.2,1249.0 L1821.2,1250.1 L1824.3,1251.2 L1827.4,1252.3 L1830.5,1253.4 L1833.5,1254.5 L1836.6,1255.6 L1839.7,1256.8 L1842.8,1257.9 L1845.8,1259.0 L1848.9,1260.1 L1852.0,1261.2 L1863.3,1265.3"/>
<path stroke="#7E2F8E" d="M229.6,221.0 L229.7,224.4 L229.8,227.7 L229.9,231.1 L230.0,234.4 L230.2,237.8 L230.4,241.1 L230.6,244.5 L230.8,247.8 L231.1,251.2 L231.4,254.5 L231.6,257.9 L231.9,261.2 L232.1,264.6 L232.4,267.9 L232.6,271.3 L232.9,274.6 L233.2,278.0 L233.5,281.3 L233.8,284.7 L234.2,288.0 L234.6,291.3 L235.1,294.6 L235.8,297.9 L236.6,301.2 L237.5,304.4 L238.5,307.6 L239.6,310.8 L240.7,313.9 L241.9,317.0 L243.3,320.1 L244.7,323.2 L246.2,326.2 L247.6,329.2 L249.0,332.3 L250.5,335.3 L251.9,338.3 L253.3,341.4 L254.8,344.4 L256.3,347.4 L257.9,350.3 L259.4,353.3 L261.0,356.2 L262.7,359.2 L264.3,362.1 L266.0,365.0 L267.7,367.9 L269.5,370.7 L271.3,373.5 L273.2,376.3 L275.2,378.9 L277.2,381.6 L279.3,384.2 L281.4,386.8 L283.6,389.3 L285.8,391.9 L288.1,394.4 L290.3,396.9 L292.6,399.4 L294.9,401.8 L297.1,404.3 L299.4,406.7 L301.8,409.0 L304.2,411.4 L306.6,413.7 L309.0,416.1 L311.4,418.4 L313.8,420.7 L316.2,423.1 L318.6,425.4 L321.0,427.7 L323.4,430.1 L325.8,432.4 L328.2,434.8 L330.6,437.1 L333.0,439.4 L335.4,441.7 L337.8,444.1 L340.2,446.4 L342.6,448.7 L345.1,451.0 L347.5,453.2 L350.0,455.5 L352.4,457.8 L354.9,460.0 L357.4,462.3 L359.8,464.6 L362.3,466.8 L364.8,469.1 L367.3,471.3 L369.7,473.6 L372.2,475.8 L374.7,478.1 L377.2,480.3 L379.7,482.5 L382.2,484.8 L384.7,487.0 L387.2,489.1 L389.8,491.3 L392.3,493.5 L394.9,495.6 L397.5,497.7 L400.1,499.9 L402.6,502.0 L405.2,504.1 L407.8,506.2 L410.4,508.3 L413.0,510.5 L415.6,512.6 L418.2,514.7 L420.7,516.8 L423.3,518.9 L425.9,521.1 L428.5,523.2 L431.1,525.3 L433.7,527.4 L436.3,529.5 L438.9,531.7 L441.4,533.8 L444.0,535.9 L446.6,538.0 L449.2,540.1 L451.8,542.2 L454.4,544.4 L457.0,546.5 L459.6,548.6 L462.2,550.7 L464.7,552.8 L467.3,554.9 L469.9,557.0 L472.5,559.1 L475.1,561.2 L477.7,563.3 L480.3,565.4 L482.9,567.6 L485.5,569.7 L488.1,571.8 L490.7,573.9 L493.3,576.0 L495.9,578.0 L498.5,580.1 L501.1,582.2 L503.7,584.3 L506.3,586.4 L508.9,588.5 L511.5,590.6 L514.2,592.7 L516.8,594.8 L519.4,596.8 L522.0,598.9 L524.6,601.0 L527.2,603.1 L529.8,605.1 L532.5,607.2 L535.1,609.3 L537.7,611.4 L540.3,613.4 L543.0,615.5 L545.6,617.5 L548.2,619.6 L550.9,621.7 L553.5,623.7 L556.1,625.8 L558.8,627.8 L561.4,629.8 L564.1,631.9 L566.7,633.9 L569.4,636.0 L572.0,638.0 L574.7,640.0 L577.3,642.1 L580.0,644.1 L582.6,646.1 L585.3,648.1 L587.9,650.2 L590.6,652.2 L593.3,654.2 L595.9,656.2 L598.6,658.2 L601.3,660.2 L604.0,662.2 L606.6,664.2 L609.3,666.3 L612.0,668.3 L614.7,670.3 L617.3,672.3 L620.0,674.3 L622.7,676.3 L625.4,678.3 L628.1,680.3 L630.8,682.3 L633.4,684.3 L636.1,686.3 L638.8,688.3 L641.5,690.3 L644.2,692.3 L646.9,694.3 L649.6,696.3 L652.3,698.3 L655.0,700.2 L657.7,702.2 L660.4,704.2 L663.1,706.2 L665.8,708.2 L668.5,710.1 L671.2,712.1 L674.0,714.1 L676.7,716.0 L679.4,718.0 L682.1,720.0 L684.8,721.9 L687.6,723.9 L690.3,725.8 L693.0,727.8 L695.7,729.7 L698.5,731.7 L701.2,733.6 L703.9,735.5 L706.7,737.5 L709.4,739.4 L712.2,741.3 L714.9,743.2 L717.7,745.1 L720.4,747.1 L723.2,749.0 L725.9,750.9 L728.7,752.8 L731.4,754.7 L734.2,756.6 L736.9,758.4 L739.7,760.3 L742.5,762.2 L745.2,764.1 L748.0,766.0 L750.8,767.8 L753.6,769.7 L756.3,771.5 L759.1,773.4 L761.9,775.2 L764.7,777.1 L767.5,778.9 L770.3,780.7 L773.1,782.6 L775.9,784.4 L778.7,786.2 L781.5,788.0 L784.3,789.8 L787.1,791.6 L789.9,793.5 L792.7,795.3 L795.5,797.1 L798.3,798.9 L801.1,800.6 L804.0,802.4 L806.8,804.2 L809.6,806.0 L812.5,807.8 L815.3,809.6 L818.1,811.3 L821.0,813.1 L823.8,814.9 L826.6,816.6 L829.5,818.4 L832.3,820.2 L835.2,821.9 L838.0,823.7 L840.9,825.4 L843.7,827.1 L846.6,828.9 L849.5,830.6 L852.3,832.3 L855.2,834.1 L858.0,835.8 L860.9,837.5 L863.8,839.2 L866.7,841.0 L869.5,842.7 L872.4,844.4 L875.3,846.1 L878.2,847.8 L881.0,849.5 L883.9,851.2 L886.8,852.8 L889.7,854.5 L892.6,856.2 L895.5,857.9 L898.4,859.6 L901.3,861.2 L904.2,862.9 L907.1,864.6 L910.0,866.2 L912.9,867.9 L915.8,869.5 L918.7,871.2 L921.6,872.8 L924.5,874.4 L927.4,876.1 L930.4,877.7 L933.3,879.3 L936.2,881.0 L939.1,882.6 L942.0,884.2 L945.0,885.8 L947.9,887.4 L950.8,889.0 L953.7,890.6 L956.7,892.2 L959.6,893.8 L962.5,895.4 L965.5,897.0 L968.4,898.5 L971.4,900.1 L974.3,901.7 L977.3,903.2 L980.2,904.8 L983.2,906.3 L986.2,907.9 L989.1,909.5 L992.1,911.0 L995.1,912.5 L998.0,914.1 L1001.0,915.6 L1004.0,917.1 L1007.0,918.7 L1009.9,920.2 L1012.9,921.7 L1015.9,923.2 L1018.9,924.7 L1021.9,926.3 L1024.9,927.8 L1027.9,929.3 L1030.9,930.8 L1033.9,932.3 L1036.9,933.8 L1039.9,935.3 L1042.9,936.7 L1045.9,938.2 L1048.9,939.7 L1051.9,941.2 L1054.9,942.7 L1057.9,944.2 L1060.9,945.6 L1063.9,947.1 L1066.9,948.6 L1069.9,950.0 L1072.9,951.5 L1076.0,953.0 L1079.0,954.4 L1082.0,955.9 L1085.0,957.3 L1088.0,958.8 L1091.0,960.3 L1094.0,961.7 L1097.1,963.2 L1100.1,964.6 L1103.1,966.1 L1106.1,967.5 L1109.1,968.9 L1112.2,970.4 L1115.2,971.8 L1118.2,973.3 L1121.2,974.7 L1124.2,976.2 L1127.2,977.6 L1130.3,979.0 L1133.3,980.5 L1136.3,981.9 L1139.3,983.3 L1142.3,984.7 L1145.4,986.2 L1148.4,987.6 L1151.4,989.0 L1154.4,990.4 L1157.5,991.8 L1160.5,993.2 L1163.5,994.6 L1166.5,996.0 L1169.6,997.4 L1172.6,998.8 L1175.6,1000.2 L1178.7,1001.6 L1181.7,1003.0 L1184.7,1004.3 L1187.8,1005.7 L1190.8,1007.1 L1193.8,1008.5 L1196.9,1009.8 L1199.9,1011.2 L1203.0,1012.6 L1206.0,1013.9 L1209.1,1015.3 L1212.1,1016.7 L1215.1,1018.0 L1218.2,1019.4 L1221.2,1020.7 L1224.3,1022.1 L1227.3,1023.4 L1230.4,1024.8 L1233.4,1026.1 L1236.5,1027.5 L1239.5,1028.8 L1242.6,1030.2 L1245.6,1031.5 L1248.7,1032.9 L1251.7,1034.2 L1254.8,1035.6 L1257.8,1036.9 L1260.9,1038.2 L1263.9,1039.6 L1267.0,1040.9 L1270.0,1042.2 L1273.1,1043.6 L1276.2,1044.9 L1279.2,1046.3 L1282.3,1047.6 L1285.3,1048.9 L1288.4,1050.3 L1291.4,1051.6 L1294.5,1052.9 L1297.6,1054.3 L1300.6,1055.6 L1303.7,1056.9 L1306.7,1058.3 L1309.8,1059.6 L1312.9,1060.9 L1315.9,1062.3 L1319.0,1063.6 L1322.0,1064.9 L1325.1,1066.3 L1328.2,1067.6 L1331.2,1068.9 L1334.3,1070.3 L1337.4,1071.6 L1340.5,1072.9 L1343.5,1074.2 L1346.6,1075.5 L1349.7,1076.9 L1352.7,1078.2 L1355.8,1079.5 L1358.9,1080.8 L1362.0,1082.1 L1365.0,1083.4 L1368.1,1084.8 L1371.2,1086.1 L1374.3,1087.4 L1377.3,1088.7 L1380.4,1090.0 L1383.5,1091.3 L1386.6,1092.6 L1389.7,1093.9 L1392.7,1095.2 L1395.8,1096.5 L1398.9,1097.8 L1402.0,1099.1 L1405.1,1100.4 L1408.1,1101.7 L1411.2,1103.0 L1414.3,1104.3 L1417.4,1105.6 L1420.5,1106.9 L1423.6,1108.2 L1426.6,1109.5 L1429.7,1110.8 L1432.8,1112.1 L1435.9,1113.4 L1439.0,1114.7 L1442.1,1116.0 L1445.1,1117.3 L1448.2,1118.6 L1451.3,1119.9 L1454.4,1121.2 L1457.5,1122.5 L1460.6,1123.7 L1463.6,1125.0 L1466.7,1126.3 L1469.8,1127.6 L1472.9,1128.9 L1476.0,1130.2 L1479.1,1131.5 L1482.1,1132.8 L1485.2,1134.0 L1488.3,1135.3 L1491.4,1136.6 L1494.5,1137.9 L1497.6,1139.2 L1500.6,1140.5 L1503.7,1141.8 L1506.8,1143.0 L1509.9,1144.3 L1513.0,1145.6 L1516.1,1146.9 L1519.1,1148.2 L1522.2,1149.4 L1525.3,1150.7 L1528.4,1152.0 L1531.5,1153.3 L1534.6,1154.5 L1537.7,1155.8 L1540.7,1157.1 L1543.8,1158.3 L1546.9,1159.6 L1550.0,1160.9 L1553.1,1162.1 L1556.2,1163.4 L1559.3,1164.7 L1562.4,1165.9 L1565.4,1167.2 L1568.5,1168.5 L1571.6,1169.7 L1574.7,1171.0 L1577.8,1172.3 L1580.9,1173.5 L1584.0,1174.8 L1587.1,1176.0 L1590.1,1177.3 L1593.2,1178.5 L1596.3,1179.8 L1599.4,1181.1 L1602.5,1182.3 L1605.6,1183.6 L1608.7,1184.8 L1611.7,1186.1 L1614.8,1187.3 L1617.9,1188.6 L1621.0,1189.8 L1624.1,1191.1 L1627.2,1192.3 L1630.3,1193.6 L1633.4,1194.8 L1636.4,1196.1 L1639.5,1197.3 L1642.6,1198.6 L1645.7,1199.8 L1648.8,1201.1 L1651.9,1202.3 L1654.9,1203.6 L1658.0,1204.8 L1661.1,1206.1 L1664.2,1207.3 L1667.3,1208.6 L1670.4,1209.8 L1673.4,1211.0 L1676.5,1212.3 L1679.6,1213.5 L1682.7,1214.8 L1685.8,1216.0 L1688.9,1217.2 L1691.9,1218.5 L1695.0,1219.7 L1698.1,1220.9 L1701.2,1222.2 L1704.3,1223.4 L1707.3,1224.6 L1710.4,1225.8 L1713.5,1227.0 L1716.6,1228.3 L1719.7,1229.5 L1722.7,1230.7 L1725.8,1231.9 L1728.9,1233.1 L1732.0,1234.3 L1735.1,1235.5 L1738.1,1236.7 L1741.2,1237.9 L1744.3,1239.1 L1747.4,1240.3 L1750.5,1241.5 L1753.5,1242.7 L1756.6,1243.9 L1759.7,1245.1 L1762.8,1246.3 L1765.9,1247.5 L1768.9,1248.7 L1772.0,1249.9 L1775.1,1251.1 L1778.2,1252.2 L1781.2,1253.4 L1784.3,1254.6 L1787.4,1255.8 L1790.5,1257.0 L1793.6,1258.2 L1796.6,1259.3 L1799.7,1260.5 L1802.8,1261.7 L1805.9,1262.9 L1808.9,1264.0 L1812.0,1265.2 L1815.1,1266.4 L1818.2,1267.6 L1821.2,1268.7 L1824.3,1269.9 L1827.4,1271.1 L1830.5,1272.2 L1833.5,1273.4 L1836.6,1274.6 L1839.7,1275.7 L1842.8,1276.9 L1845.8,1278.1 L1848.9,1279.2 L1852.0,1280.4 L1863.2,1284.7"/>
<path stroke="#77AC30" d="M229.6,221.0 L229.7,224.4 L229.8,227.7 L229.9,231.1 L230.0,234.4 L230.2,237.8 L230.4,241.1 L230.6,244.5 L230.8,247.8 L231.1,251.2 L231.4,254.5 L231.6,257.9 L231.9,261.2 L232.1,264.6 L232.4,267.9 L232.6,271.3 L232.9,274.6 L233.2,278.0 L233.5,281.3 L233.8,284.7 L234.2,288.0 L234.6,291.4 L235.1,294.7 L235.8,297.9 L236.6,301.2 L237.5,304.4 L238.5,307.7 L239.6,310.9 L240.7,314.0 L241.9,317.1 L243.3,320.2 L244.7,323.2 L246.2,326.3 L247.6,329.3 L249.0,332.4 L250.5,335.4 L251.9,338.5 L253.3,341.5 L254.8,344.5 L256.3,347.5 L257.9,350.5 L259.4,353.5 L261.0,356.4 L262.7,359.4 L264.3,362.3 L266.0,365.2 L267.7,368.1 L269.5,371.0 L271.3,373.8 L273.2,376.5 L275.2,379.2 L277.2,381.9 L279.3,384.5 L281.4,387.1 L283.6,389.7 L285.8,392.2 L288.1,394.8 L290.3,397.3 L292.6,399.8 L294.9,402.2 L297.1,404.7 L299.4,407.1 L301.8,409.5 L304.2,411.9 L306.6,414.2 L309.0,416.6 L311.4,418.9 L313.8,421.3 L316.2,423.6 L318.6,426.0 L321.0,428.3 L323.4,430.7 L325.8,433.1 L328.2,435.4 L330.6,437.8 L333.0,440.1 L335.4,442.5 L337.8,444.8 L340.2,447.1 L342.6,449.4 L345.1,451.7 L347.5,454.0 L350.0,456.3 L352.4,458.6 L354.9,460.9 L357.4,463.2 L359.8,465.5 L362.3,467.7 L364.8,470.0 L367.3,472.3 L369.7,474.6 L372.2,476.8 L374.7,479.1 L377.2,481.4 L379.7,483.6 L382.2,485.8 L384.7,488.1 L387.2,490.3 L389.8,492.4 L392.3,494.6 L394.9,496.8 L397.5,498.9 L400.1,501.1 L402.6,503.2 L405.2,505.4 L407.8,507.5 L410.4,509.7 L413.0,511.8 L415.6,514.0 L418.2,516.1 L420.7,518.2 L423.3,520.4 L425.9,522.5 L428.5,524.7 L431.1,526.8 L433.7,529.0 L436.3,531.1 L438.9,533.3 L441.4,535.4 L444.0,537.5 L446.6,539.7 L449.2,541.8 L451.8,544.0 L454.4,546.1 L457.0,548.3 L459.6,550.4 L462.2,552.5 L464.7,554.7 L467.3,556.8 L469.9,558.9 L472.5,561.1 L475.1,563.2 L477.7,565.4 L480.3,567.5 L482.9,569.6 L485.5,571.8 L488.1,573.9 L490.7,576.0 L493.3,578.1 L495.9,580.3 L498.5,582.4 L501.1,584.5 L503.7,586.6 L506.3,588.8 L508.9,590.9 L511.5,593.0 L514.2,595.1 L516.8,597.2 L519.4,599.3 L522.0,601.4 L524.6,603.5 L527.2,605.6 L529.8,607.8 L532.5,609.9 L535.1,611.9 L537.7,614.0 L540.3,616.1 L543.0,618.2 L545.6,620.3 L548.2,622.4 L550.9,624.5 L553.5,626.6 L556.1,628.6 L558.8,630.7 L561.4,632.8 L564.1,634.9 L566.7,636.9 L569.4,639.0 L572.0,641.1 L574.7,643.1 L577.3,645.2 L580.0,647.2 L582.6,649.3 L585.3,651.3 L587.9,653.3 L590.6,655.4 L593.3,657.4 L595.9,659.5 L598.6,661.5 L601.3,663.5 L604.0,665.6 L606.6,667.6 L609.3,669.6 L612.0,671.7 L614.7,673.7 L617.3,675.7 L620.0,677.7 L622.7,679.8 L625.4,681.8 L628.1,683.8 L630.8,685.8 L633.4,687.8 L636.1,689.9 L638.8,691.9 L641.5,693.9 L644.2,695.9 L646.9,697.9 L649.6,699.9 L652.3,701.9 L655.0,703.9 L657.7,705.9 L660.4,707.9 L663.1,709.9 L665.8,711.9 L668.5,713.9 L671.2,715.9 L674.0,717.9 L676.7,719.9 L679.4,721.8 L682.1,723.8 L684.8,725.8 L687.6,727.8 L690.3,729.7 L693.0,731.7 L695.7,733.7 L698.5,735.6 L701.2,737.6 L703.9,739.5 L706.7,741.5 L709.4,743.4 L712.2,745.4 L714.9,747.3 L717.7,749.2 L720.4,751.2 L723.2,753.1 L725.9,755.0 L728.7,756.9 L731.4,758.9 L734.2,760.8 L736.9,762.7 L739.7,764.6 L742.5,766.5 L745.2,768.4 L748.0,770.3 L750.8,772.2 L753.6,774.0 L756.3,775.9 L759.1,777.8 L761.9,779.7 L764.7,781.5 L767.5,783.4 L770.3,785.2 L773.1,787.1 L775.9,788.9 L778.7,790.8 L781.5,792.6 L784.3,794.5 L787.1,796.3 L789.9,798.1 L792.7,800.0 L795.5,801.8 L798.3,803.6 L801.1,805.5 L804.0,807.3 L806.8,809.1 L809.6,810.9 L812.5,812.7 L815.3,814.5 L818.1,816.3 L821.0,818.2 L823.8,820.0 L826.6,821.7 L829.5,823.5 L832.3,825.3 L835.2,827.1 L838.0,828.9 L840.9,830.7 L843.7,832.5 L846.6,834.2 L849.5,836.0 L852.3,837.8 L855.2,839.5 L858.0,841.3 L860.9,843.1 L863.8,844.8 L866.7,846.6 L869.5,848.3 L872.4,850.0 L875.3,851.8 L878.2,853.5 L881.0,855.3 L883.9,857.0 L886.8,858.7 L889.7,860.4 L892.6,862.1 L895.5,863.9 L898.4,865.6 L901.3,867.3 L904.2,869.0 L907.1,870.7 L910.0,872.4 L912.9,874.0 L915.8,875.7 L918.7,877.4 L921.6,879.1 L924.5,880.8 L927.4,882.4 L930.4,884.1 L933.3,885.8 L936.2,887.4 L939.1,889.1 L942.0,890.7 L945.0,892.3 L947.9,894.0 L950.8,895.6 L953.7,897.2 L956.7,898.9 L959.6,900.5 L962.5,902.1 L965.5,903.7 L968.4,905.3 L971.4,906.9 L974.3,908.5 L977.3,910.1 L980.2,911.7 L983.2,913.3 L986.2,914.9 L989.1,916.4 L992.1,918.0 L995.1,919.6 L998.0,921.1 L1001.0,922.7 L1004.0,924.2 L1007.0,925.8 L1009.9,927.3 L1012.9,928.9 L1015.9,930.4 L1018.9,932.0 L1021.9,933.5 L1024.9,935.0 L1027.9,936.6 L1030.9,938.1 L1033.9,939.6 L1036.9,941.1 L1039.9,942.7 L1042.9,944.2 L1045.9,945.7 L1048.9,947.2 L1051.9,948.7 L1054.9,950.2 L1057.9,951.7 L1060.9,953.2 L1063.9,954.7 L1066.9,956.2 L1069.9,957.7 L1072.9,959.2 L1076.0,960.7 L1079.0,962.2 L1082.0,963.7 L1085.0,965.2 L1088.0,966.6 L1091.0,968.1 L1094.0,969.6 L1097.1,971.1 L1100.1,972.6 L1103.1,974.0 L1106.1,975.5 L1109.1,977.0 L1112.2,978.5 L1115.2,980.0 L1118.2,981.4 L1121.2,982.9 L1124.2,984.4 L1127.2,985.9 L1130.3,987.3 L1133.3,988.8 L1136.3,990.3 L1139.3,991.7 L1142.3,993.2 L1145.4,994.7 L1148.4,996.1 L1151.4,997.6 L1154.4,999.0 L1157.5,1000.5 L1160.5,1002.0 L1163.5,1003.4 L1166.5,1004.9 L1169.6,1006.3 L1172.6,1007.7 L1175.6,1009.2 L1178.7,1010.6 L1181.7,1012.1 L1184.7,1013.5 L1187.8,1014.9 L1190.8,1016.4 L1193.8,1017.8 L1196.9,1019.2 L1199.9,1020.7 L1203.0,1022.1 L1206.0,1023.5 L1209.1,1025.0 L1212.1,1026.4 L1215.1,1027.8 L1218.2,1029.2 L1221.2,1030.6 L1224.3,1032.1 L1227.3,1033.5 L1230.4,1034.9 L1233.4,1036.3 L1236.5,1037.7 L1239.5,1039.1 L1242.6,1040.5 L1245.6,1041.9 L1248.7,1043.3 L1251.7,1044.7 L1254.8,1046.1 L1257.8,1047.5 L1260.9,1048.9 L1263.9,1050.3 L1267.0,1051.7 L1270.0,1053.1 L1273.1,1054.5 L1276.2,1055.9 L1279.2,1057.3 L1282.3,1058.7 L1285.3,1060.1 L1288.4,1061.5 L1291.4,1062.9 L1294.5,1064.3 L1297.6,1065.7 L1300.6,1067.0 L1303.7,1068.4 L1306.7,1069.8 L1309.8,1071.2 L1312.9,1072.6 L1315.9,1074.0 L1319.0,1075.3 L1322.0,1076.7 L1325.1,1078.1 L1328.2,1079.4 L1331.2,1080.8 L1334.3,1082.2 L1337.4,1083.6 L1340.5,1084.9 L1343.5,1086.3 L1346.6,1087.6 L1349.7,1089.0 L1352.7,1090.3 L1355.8,1091.7 L1358.9,1093.1 L1362.0,1094.4 L1365.0,1095.8 L1368.1,1097.1 L1371.2,1098.5 L1374.3,1099.8 L1377.3,1101.1 L1380.4,1102.5 L1383.5,1103.8 L1386.6,1105.2 L1389.7,1106.5 L1392.7,1107.9 L1395.8,1109.2 L1398.9,1110.5 L1402.0,1111.9 L1405.1,1113.2 L1408.1,1114.5 L1411.2,1115.9 L1414.3,1117.2 L1417.4,1118.6 L1420.5,1119.9 L1423.6,1121.2 L1426.6,1122.6 L1429.7,1123.9 L1432.8,1125.2 L1435.9,1126.5 L1439.0,1127.9 L1442.1,1129.2 L1445.1,1130.5 L1448.2,1131.9 L1451.3,1133.2 L1454.4,1134.5 L1457.5,1135.9 L1460.6,1137.2 L1463.6,1138.5 L1466.7,1139.9 L1469.8,1141.2 L1472.9,1142.5 L1476.0,1143.9 L1479.1,1145.2 L1482.1,1146.5 L1485.2,1147.9 L1488.3,1149.2 L1491.4,1150.5 L1494.5,1151.9 L1497.6,1153.2 L1500.6,1154.5 L1503.7,1155.9 L1506.8,1157.2 L1509.9,1158.5 L1513.0,1159.9 L1516.1,1161.2 L1519.1,1162.5 L1522.2,1163.8 L1525.3,1165.2 L1528.4,1166.5 L1531.5,1167.8 L1534.6,1169.1 L1537.7,1170.5 L1540.7,1171.8 L1543.8,1173.1 L1546.9,1174.4 L1550.0,1175.8 L1553.1,1177.1 L1556.2,1178.4 L1559.3,1179.7 L1562.4,1181.1 L1565.4,1182.4 L1568.5,1183.7 L1571.6,1185.0 L1574.7,1186.4 L1577.8,1187.7 L1580.9,1189.0 L1584.0,1190.3 L1587.1,1191.6 L1590.1,1193.0 L1593.2,1194.3 L1596.3,1195.6 L1599.4,1196.9 L1602.5,1198.3 L1605.6,1199.6 L1608.7,1200.9 L1611.7,1202.2 L1614.8,1203.6 L1617.9,1204.9 L1621.0,1206.2 L1624.1,1207.5 L1627.2,1208.9 L1630.3,1210.2 L1633.4,1211.5 L1636.4,1212.8 L1639.5,1214.2 L1642.6,1215.5 L1645.7,1216.8 L1648.8,1218.1 L1651.9,1219.5 L1654.9,1220.8 L1658.0,1222.1 L1661.1,1223.5 L1664.2,1224.8 L1667.3,1226.1 L1670.4,1227.5 L1673.4,1228.8 L1676.5,1230.1 L1679.6,1231.5 L1682.7,1232.8 L1685.8,1234.1 L1688.9,1235.5 L1691.9,1236.8 L1695.0,1238.2 L1698.1,1239.5 L1701.2,1240.8 L1704.3,1242.2 L1707.3,1243.5 L1710.4,1244.8 L1713.5,1246.2 L1716.6,1247.5 L1719.7,1248.9 L1722.7,1250.2 L1725.8,1251.5 L1728.9,1252.9 L1732.0,1254.2 L1735.1,1255.6 L1738.1,1256.9 L1741.2,1258.2 L1744.3,1259.6 L1747.4,1260.9 L1750.5,1262.3 L1753.5,1263.6 L1756.6,1264.9 L1759.7,1266.3 L1762.8,1267.6 L1765.9,1269.0 L1768.9,1270.3 L1772.0,1271.7 L1775.1,1273.0 L1778.2,1274.4 L1781.2,1275.7 L1784.3,1277.0 L1787.4,1278.4 L1790.5,1279.7 L1793.6,1281.1 L1796.6,1282.4 L1799.7,1283.8 L1802.8,1285.1 L1805.9,1286.5 L1808.9,1287.8 L1812.0,1289.2 L1815.1,1290.5 L1818.2,1291.9 L1821.2,1293.2 L1824.3,1294.6 L1827.4,1295.9 L1830.5,1297.2 L1833.5,1298.6 L1836.6,1299.9 L1839.7,1301.3 L1842.8,1302.6 L1845.8,1304.0 L1848.9,1305.3 L1852.0,1306.7 L1863.0,1311.5"/>
</g>
<g filter="url(#bt)">
<text transform="translate(0,100.70) scale(1,1.045)" font-family="'Liberation Sans', Arial, Helvetica, sans-serif" font-weight="bold" font-size="58" fill="#000" xml:space="preserve"><tspan x="191.74" textLength="242.15" lengthAdjust="spacingAndGlyphs">Terminal</tspan> <tspan x="446.79" textLength="211.05" lengthAdjust="spacingAndGlyphs">Voltage</tspan> <tspan x="672.28" textLength="62.00" lengthAdjust="spacingAndGlyphs">vs</tspan> <tspan x="746.62" textLength="139.84" lengthAdjust="spacingAndGlyphs">Time</tspan> <tspan x="900.63" textLength="75.63" lengthAdjust="spacingAndGlyphs">for</tspan> <tspan x="993.60" textLength="214.50" lengthAdjust="spacingAndGlyphs">Change</tspan> <tspan x="1221.30" textLength="53.43" lengthAdjust="spacingAndGlyphs">in</tspan> <tspan x="1287.44" textLength="363.95" lengthAdjust="spacingAndGlyphs">Transference</tspan> <tspan x="1669.43" textLength="218.54" lengthAdjust="spacingAndGlyphs">Number</tspan></text>
<text transform="translate(0,1552.00) scale(1,1.045)" font-family="'Liberation Sans', Arial, Helvetica, sans-serif" font-weight="bold" font-size="58" fill="#262626" xml:space="preserve"><tspan x="931.04" textLength="135.66" lengthAdjust="spacingAndGlyphs">Time</tspan> <tspan x="1079.89" textLength="66.41" lengthAdjust="spacingAndGlyphs">(s)</tspan></text>
<text transform="translate(79.70,0) rotate(-90) scale(1,1.045)" font-family="'Liberation Sans', Arial, Helvetica, sans-serif" font-weight="bold" font-size="58" fill="#262626" xml:space="preserve"><tspan x="-1041.97" textLength="242.97" lengthAdjust="spacingAndGlyphs">Terminal</tspan> <tspan x="-786.40" textLength="209.53" lengthAdjust="spacingAndGlyphs">Voltage</tspan> <tspan x="-560.45" textLength="70.90" lengthAdjust="spacingAndGlyphs">(V)</tspan></text>
<text transform="translate(226.00,1476.50) scale(1.015,1.0) " font-family="'Liberation Sans', Arial, Helvetica, sans-serif" font-weight="bold" font-size="53" text-anchor="middle" fill="#262626">0</text>
<text transform="translate(405.30,1476.50) scale(1.015,1.0) " font-family="'Liberation Sans', Arial, Helvetica, sans-serif" font-weight="bold" font-size="53" text-anchor="middle" fill="#262626">500</text>
<text transform="translate(584.90,1476.50) scale(1.015,1.0) " font-family="'Liberation Sans', Arial, Helvetica, sans-serif" font-weight="bold" font-size="53" text-anchor="middle" fill="#262626">1000</text>
<text transform="translate(768.50,1476.50) scale(1.015,1.0) " font-family="'Liberation Sans', Arial, Helvetica, sans-serif" font-weight="bold" font-size="53" text-anchor="middle" fill="#262626">1500</text>
<text transform="translate(947.50,1476.50) scale(1.015,1.0) " font-family="'Liberation Sans', Arial, Helvetica, sans-serif" font-weight="bold" font-size="53" text-anchor="middle" fill="#262626">2000</text>
<text transform="translate(1127.70,1476.50) scale(1.015,1.0) " font-family="'Liberation Sans', Arial, Helvetica, sans-serif" font-weight="bold" font-size="53" text-anchor="middle" fill="#262626">2500</text>
<text transform="translate(1307.60,1476.50) scale(1.015,1.0) " font-family="'Liberation Sans', Arial, Helvetica, sans-serif" font-weight="bold" font-size="53" text-anchor="middle" fill="#262626">3000</text>
<text transform="translate(1492.00,1476.50) scale(1.015,1.0) " font-family="'Liberation Sans', Arial, Helvetica, sans-serif" font-weight="bold" font-size="53" text-anchor="middle" fill="#262626">3500</text>
<text transform="translate(1672.80,1476.50) scale(1.015,1.0) " font-family="'Liberation Sans', Arial, Helvetica, sans-serif" font-weight="bold" font-size="53" text-anchor="middle" fill="#262626">4000</text>
<text transform="translate(1853.10,1476.50) scale(1.015,1.0) " font-family="'Liberation Sans', Arial, Helvetica, sans-serif" font-weight="bold" font-size="53" text-anchor="middle" fill="#262626">4500</text>
<text transform="translate(206.70,141.90) scale(1.02,1.0) " font-family="'Liberation Sans', Arial, Helvetica, sans-serif" font-weight="bold" font-size="53" text-anchor="end" fill="#262626">4.2</text>
<text transform="translate(206.70,322.00) scale(1.02,1.0) " font-family="'Liberation Sans', Arial, Helvetica, sans-serif" font-weight="bold" font-size="53" text-anchor="end" fill="#262626">4.15</text>
<text transform="translate(206.70,505.80) scale(1.02,1.0) " font-family="'Liberation Sans', Arial, Helvetica, sans-serif" font-weight="bold" font-size="53" text-anchor="end" fill="#262626">4.1</text>
<text transform="translate(206.70,689.50) scale(1.02,1.0) " font-family="'Liberation Sans', Arial, Helvetica, sans-serif" font-weight="bold" font-size="53" text-anchor="end" fill="#262626">4.05</text>
<text transform="translate(206.70,872.80) scale(1.02,1.0) " font-family="'Liberation Sans', Arial, Helvetica, sans-serif" font-weight="bold" font-size="53" text-anchor="end" fill="#262626">4</text>
<text transform="translate(206.70,1056.40) scale(1.02,1.0) " font-family="'Liberation Sans', Arial, Helvetica, sans-serif" font-weight="bold" font-size="53" text-anchor="end" fill="#262626">3.95</text>
<text transform="translate(206.70,1239.90) scale(1.02,1.0) " font-family="'Liberation Sans', Arial, Helvetica, sans-serif" font-weight="bold" font-size="53" text-anchor="end" fill="#262626">3.9</text>
<text transform="translate(206.70,1424.50) scale(1.02,1.0) " font-family="'Liberation Sans', Arial, Helvetica, sans-serif" font-weight="bold" font-size="53" text-anchor="end" fill="#262626">3.85</text>
</g>
<g filter="url(#ba)">
<rect x="1334.2" y="151.5" width="487.70000000000005" height="480.0" fill="#fff" stroke="#262626" stroke-width="3.6"/>
<path d="M1349,204 H1462.3" stroke="#0072BD" stroke-width="10.7" fill="none"/>
<path d="M1349,297.7 H1462.3" stroke="#D95319" stroke-width="10.7" fill="none"/>
<path d="M1349,391.5 H1462.3" stroke="#EDB120" stroke-width="10.7" fill="none"/>
<path d="M1349,485.3 H1462.3" stroke="#7E2F8E" stroke-width="10.7" fill="none"/>
<path d="M1349,578.9 H1462.3" stroke="#77AC30" stroke-width="10.7" fill="none"/>
</g>
<g filter="url(#bt)">
<text transform="translate(1493.60,220.70) scale(1.28,1.045) " font-family="'Liberation Sans', Arial, Helvetica, sans-serif" font-weight="normal" font-size="47.7" text-anchor="middle" fill="#000">Δ</text>
<text transform="translate(1540.30,220.70) scale(1.1,1.045) " font-family="'Liberation Sans', Arial, Helvetica, sans-serif" font-weight="bold" font-size="47.7" text-anchor="middle" fill="#000">t</text>
<text transform="translate(1557.30,198.30) scale(1.08,1.045) " font-family="'Liberation Sans', Arial, Helvetica, sans-serif" font-weight="bold" font-size="36" text-anchor="middle" fill="#000">0</text>
<text transform="translate(1557.30,245.10) scale(1.19,0.93) " font-family="'Liberation Sans', Arial, Helvetica, sans-serif" font-weight="bold" font-size="36" text-anchor="middle" fill="#000">+</text>
<text transform="translate(1576.30,243.00) scale(0.95,1.045) " font-family="'Liberation Sans', Arial, Helvetica, sans-serif" font-weight="bold" font-size="36" text-anchor="middle" fill="#000">1</text>
<text transform="translate(1619.50,222.30) scale(1.067,0.83) " font-family="'Liberation Sans', Arial, Helvetica, sans-serif" font-weight="bold" font-size="47.7" text-anchor="middle" fill="#000">=</text>
<text transform="translate(1681.00,220.70) scale(0.98,1.045) " font-family="'Liberation Sans', Arial, Helvetica, sans-serif" font-weight="bold" font-size="47.7" text-anchor="middle" fill="#000">1.8</text>
<text transform="translate(1737.40,220.70) scale(1.28,1.045) " font-family="'Liberation Sans', Arial, Helvetica, sans-serif" font-weight="normal" font-size="47.7" text-anchor="middle" fill="#000">Δ</text>
<text transform="translate(1784.50,220.70) scale(1.1,1.045) " font-family="'Liberation Sans', Arial, Helvetica, sans-serif" font-weight="bold" font-size="47.7" text-anchor="middle" fill="#000">t</text>
<text transform="translate(1801.10,198.30) scale(1.08,1.045) " font-family="'Liberation Sans', Arial, Helvetica, sans-serif" font-weight="bold" font-size="36" text-anchor="middle" fill="#000">0</text>
<text transform="translate(1801.50,245.10) scale(1.19,0.93) " font-family="'Liberation Sans', Arial, Helvetica, sans-serif" font-weight="bold" font-size="36" text-anchor="middle" fill="#000">+</text>
<text transform="translate(1493.60,314.40) scale(1.28,1.045) " font-family="'Liberation Sans', Arial, Helvetica, sans-serif" font-weight="normal" font-size="47.7" text-anchor="middle" fill="#000">Δ</text>
<text transform="translate(1540.30,314.40) scale(1.1,1.045) " font-family="'Liberation Sans', Arial, Helvetica, sans-serif" font-weight="bold" font-size="47.7" text-anchor="middle" fill="#000">t</text>
<text transform="translate(1557.30,292.00) scale(1.08,1.045) " font-family="'Liberation Sans', Arial, Helvetica, sans-serif" font-weight="bold" font-size="36" text-anchor="middle" fill="#000">0</text>
<text transform="translate(1557.30,338.80) scale(1.19,0.93) " font-family="'Liberation Sans', Arial, Helvetica, sans-serif" font-weight="bold" font-size="36" text-anchor="middle" fill="#000">+</text>
<text transform="translate(1576.30,336.70) scale(0.95,1.045) " font-family="'Liberation Sans', Arial, Helvetica, sans-serif" font-weight="bold" font-size="36" text-anchor="middle" fill="#000">1</text>
<text transform="translate(1619.50,316.00) scale(1.067,0.83) " font-family="'Liberation Sans', Arial, Helvetica, sans-serif" font-weight="bold" font-size="47.7" text-anchor="middle" fill="#000">=</text>
<text transform="translate(1681.00,314.40) scale(0.98,1.045) " font-family="'Liberation Sans', Arial, Helvetica, sans-serif" font-weight="bold" font-size="47.7" text-anchor="middle" fill="#000">1.7</text>
<text transform="translate(1737.40,314.40) scale(1.28,1.045) " font-family="'Liberation Sans', Arial, Helvetica, sans-serif" font-weight="normal" font-size="47.7" text-anchor="middle" fill="#000">Δ</text>
<text transform="translate(1784.50,314.40) scale(1.1,1.045) " font-family="'Liberation Sans', Arial, Helvetica, sans-serif" font-weight="bold" font-size="47.7" text-anchor="middle" fill="#000">t</text>
<text transform="translate(1801.10,292.00) scale(1.08,1.045) " font-family="'Liberation Sans', Arial, Helvetica, sans-serif" font-weight="bold" font-size="36" text-anchor="middle" fill="#000">0</text>
<text transform="translate(1801.50,338.80) scale(1.19,0.93) " font-family="'Liberation Sans', Arial, Helvetica, sans-serif" font-weight="bold" font-size="36" text-anchor="middle" fill="#000">+</text>
<text transform="translate(1493.60,408.20) scale(1.28,1.045) " font-family="'Liberation Sans', Arial, Helvetica, sans-serif" font-weight="normal" font-size="47.7" text-anchor="middle" fill="#000">Δ</text>
<text transform="translate(1540.30,408.20) scale(1.1,1.045) " font-family="'Liberation Sans', Arial, Helvetica, sans-serif" font-weight="bold" font-size="47.7" text-anchor="middle" fill="#000">t</text>
<text transform="translate(1557.30,385.80) scale(1.08,1.045) " font-family="'Liberation Sans', Arial, Helvetica, sans-serif" font-weight="bold" font-size="36" text-anchor="middle" fill="#000">0</text>
<text transform="translate(1557.30,432.60) scale(1.19,0.93) " font-family="'Liberation Sans', Arial, Helvetica, sans-serif" font-weight="bold" font-size="36" text-anchor="middle" fill="#000">+</text>
<text transform="translate(1576.30,430.50) scale(0.95,1.045) " font-family="'Liberation Sans', Arial, Helvetica, sans-serif" font-weight="bold" font-size="36" text-anchor="middle" fill="#000">1</text>
<text transform="translate(1619.50,409.80) scale(1.067,0.83) " font-family="'Liberation Sans', Arial, Helvetica, sans-serif" font-weight="bold" font-size="47.7" text-anchor="middle" fill="#000">=</text>
<text transform="translate(1681.00,408.20) scale(0.98,1.045) " font-family="'Liberation Sans', Arial, Helvetica, sans-serif" font-weight="bold" font-size="47.7" text-anchor="middle" fill="#000">1.6</text>
<text transform="translate(1737.40,408.20) scale(1.28,1.045) " font-family="'Liberation Sans', Arial, Helvetica, sans-serif" font-weight="normal" font-size="47.7" text-anchor="middle" fill="#000">Δ</text>
<text transform="translate(1784.50,408.20) scale(1.1,1.045) " font-family="'Liberation Sans', Arial, Helvetica, sans-serif" font-weight="bold" font-size="47.7" text-anchor="middle" fill="#000">t</text>
<text transform="translate(1801.10,385.80) scale(1.08,1.045) " font-family="'Liberation Sans', Arial, Helvetica, sans-serif" font-weight="bold" font-size="36" text-anchor="middle" fill="#000">0</text>
<text transform="translate(1801.50,432.60) scale(1.19,0.93) " font-family="'Liberation Sans', Arial, Helvetica, sans-serif" font-weight="bold" font-size="36" text-anchor="middle" fill="#000">+</text>
<text transform="translate(1493.60,502.00) scale(1.28,1.045) " font-family="'Liberation Sans', Arial, Helvetica, sans-serif" font-weight="normal" font-size="47.7" text-anchor="middle" fill="#000">Δ</text>
<text transform="translate(1540.30,502.00) scale(1.1,1.045) " font-family="'Liberation Sans', Arial, Helvetica, sans-serif" font-weight="bold" font-size="47.7" text-anchor="middle" fill="#000">t</text>
<text transform="translate(1557.30,479.60) scale(1.08,1.045) " font-family="'Liberation Sans', Arial, Helvetica, sans-serif" font-weight="bold" font-size="36" text-anchor="middle" fill="#000">0</text>
<text transform="translate(1557.30,526.40) scale(1.19,0.93) " font-family="'Liberation Sans', Arial, Helvetica, sans-serif" font-weight="bold" font-size="36" text-anchor="middle" fill="#000">+</text>
<text transform="translate(1576.30,524.30) scale(0.95,1.045) " font-family="'Liberation Sans', Arial, Helvetica, sans-serif" font-weight="bold" font-size="36" text-anchor="middle" fill="#000">1</text>
<text transform="translate(1619.50,503.60) scale(1.067,0.83) " font-family="'Liberation Sans', Arial, Helvetica, sans-serif" font-weight="bold" font-size="47.7" text-anchor="middle" fill="#000">=</text>
<text transform="translate(1681.00,502.00) scale(0.98,1.045) " font-family="'Liberation Sans', Arial, Helvetica, sans-serif" font-weight="bold" font-size="47.7" text-anchor="middle" fill="#000">1.5</text>
<text transform="translate(1737.40,502.00) scale(1.28,1.045) " font-family="'Liberation Sans', Arial, Helvetica, sans-serif" font-weight="normal" font-size="47.7" text-anchor="middle" fill="#000">Δ</text>
<text transform="translate(1784.50,502.00) scale(1.1,1.045) " font-family="'Liberation Sans', Arial, Helvetica, sans-serif" font-weight="bold" font-size="47.7" text-anchor="middle" fill="#000">t</text>
<text transform="translate(1801.10,479.60) scale(1.08,1.045) " font-family="'Liberation Sans', Arial, Helvetica, sans-serif" font-weight="bold" font-size="36" text-anchor="middle" fill="#000">0</text>
<text transform="translate(1801.50,526.40) scale(1.19,0.93) " font-family="'Liberation Sans', Arial, Helvetica, sans-serif" font-weight="bold" font-size="36" text-anchor="middle" fill="#000">+</text>
<text transform="translate(1493.60,595.60) scale(1.28,1.045) " font-family="'Liberation Sans', Arial, Helvetica, sans-serif" font-weight="normal" font-size="47.7" text-anchor="middle" fill="#000">Δ</text>
<text transform="translate(1540.30,595.60) scale(1.1,1.045) " font-family="'Liberation Sans', Arial, Helvetica, sans-serif" font-weight="bold" font-size="47.7" text-anchor="middle" fill="#000">t</text>
<text transform="translate(1557.30,573.20) scale(1.08,1.045) " font-family="'Liberation Sans', Arial, Helvetica, sans-serif" font-weight="bold" font-size="36" text-anchor="middle" fill="#000">0</text>
<text transform="translate(1557.30,620.00) scale(1.19,0.93) " font-family="'Liberation Sans', Arial, Helvetica, sans-serif" font-weight="bold" font-size="36" text-anchor="middle" fill="#000">+</text>
<text transform="translate(1576.30,617.90) scale(0.95,1.045) " font-family="'Liberation Sans', Arial, Helvetica, sans-serif" font-weight="bold" font-size="36" text-anchor="middle" fill="#000">1</text>
<text transform="translate(1619.50,597.20) scale(1.067,0.83) " font-family="'Liberation Sans', Arial, Helvetica, sans-serif" font-weight="bold" font-size="47.7" text-anchor="middle" fill="#000">=</text>
<text transform="translate(1681.00,595.60) scale(0.98,1.045) " font-family="'Liberation Sans', Arial, Helvetica, sans-serif" font-weight="bold" font-size="47.7" text-anchor="middle" fill="#000">1.4</text>
<text transform="translate(1737.40,595.60) scale(1.28,1.045) " font-family="'Liberation Sans', Arial, Helvetica, sans-serif" font-weight="normal" font-size="47.7" text-anchor="middle" fill="#000">Δ</text>
<text transform="translate(1784.50,595.60) scale(1.1,1.045) " font-family="'Liberation Sans', Arial, Helvetica, sans-serif" font-weight="bold" font-size="47.7" text-anchor="middle" fill="#000">t</text>
<text transform="translate(1801.10,573.20) scale(1.08,1.045) " font-family="'Liberation Sans', Arial, Helvetica, sans-serif" font-weight="bold" font-size="36" text-anchor="middle" fill="#000">0</text>
<text transform="translate(1801.50,620.00) scale(1.19,0.93) " font-family="'Liberation Sans', Arial, Helvetica, sans-serif" font-weight="bold" font-size="36" text-anchor="middle" fill="#000">+</text>
</g>
</svg>
</body></html>
